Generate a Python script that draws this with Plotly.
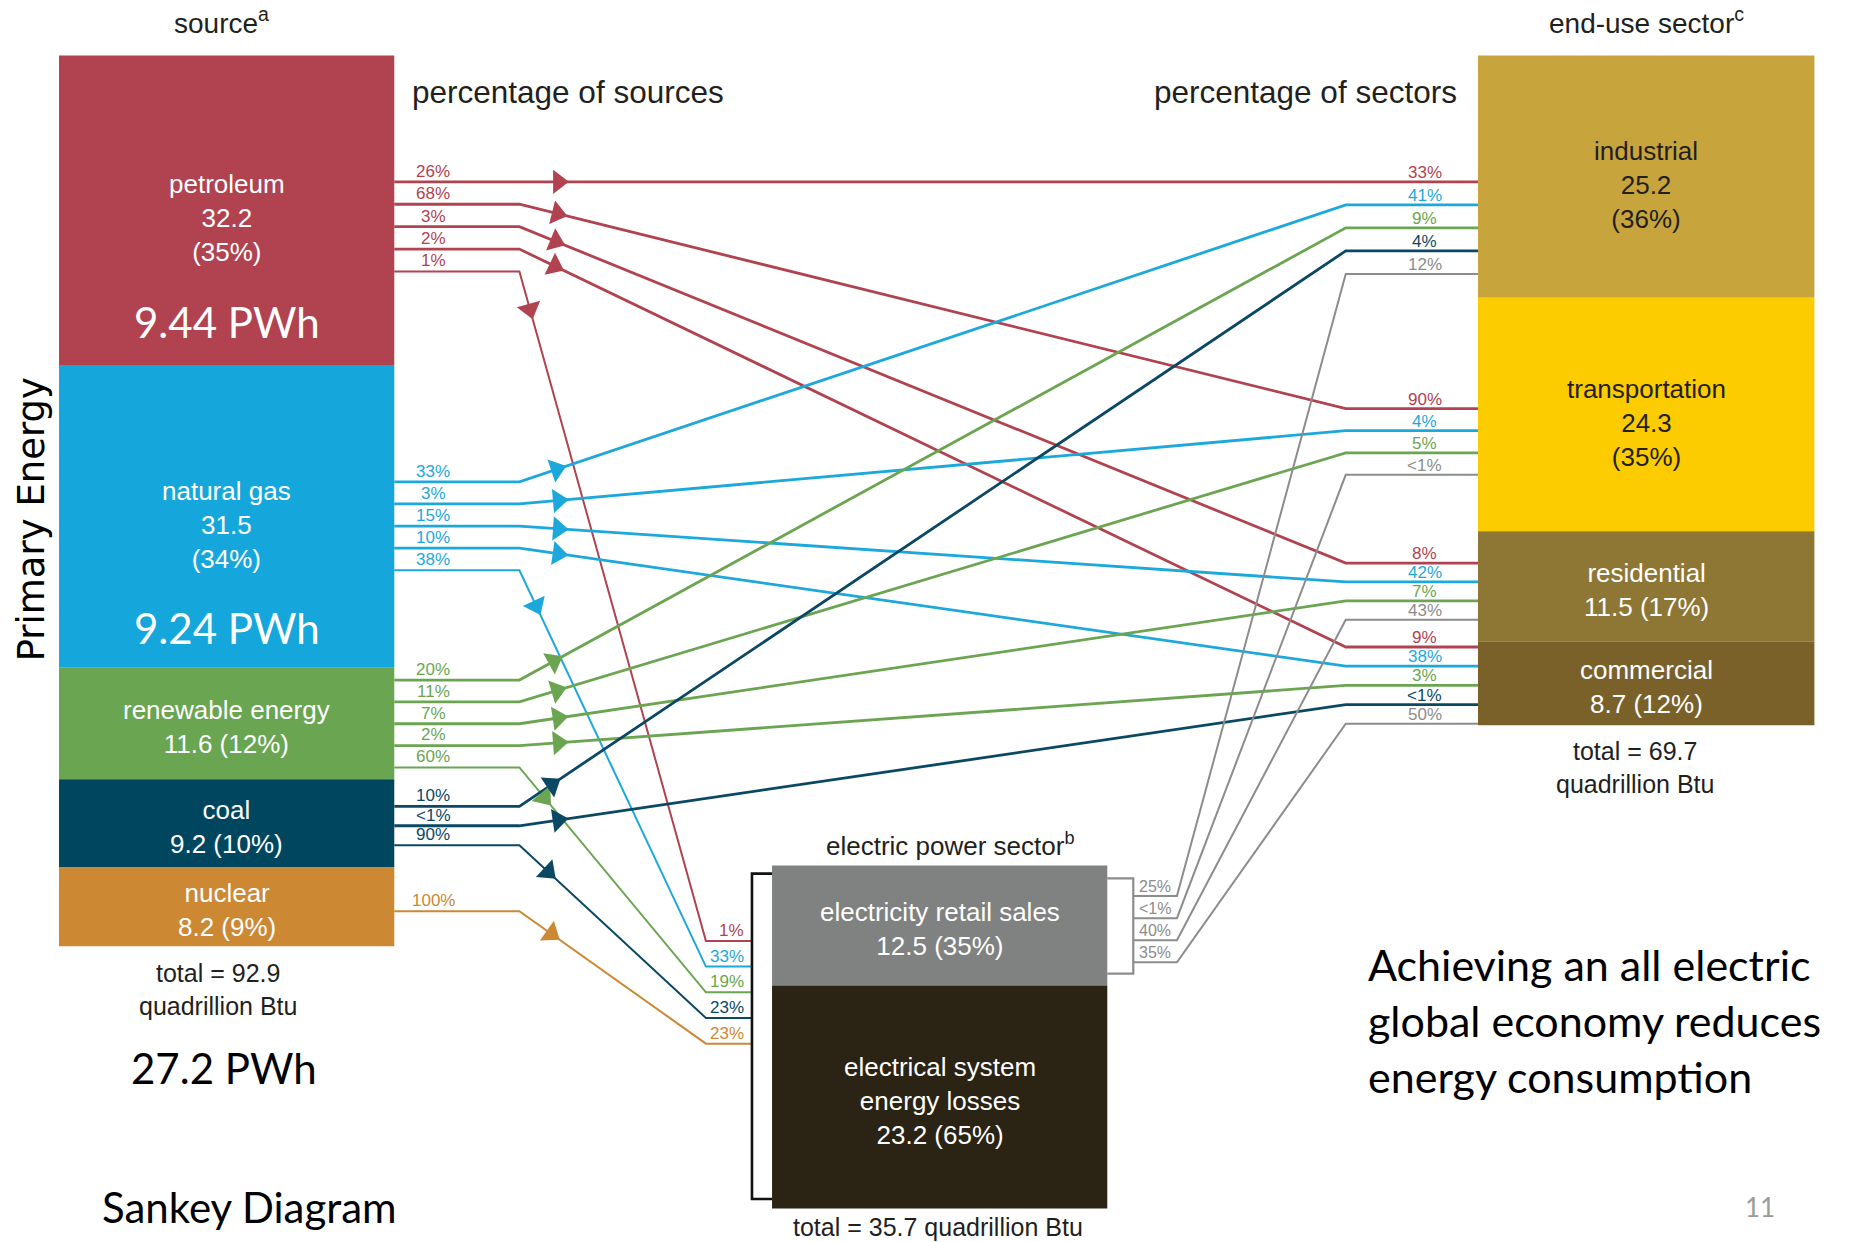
import math
import numpy as np
import plotly.graph_objects as go

# =========================
# DATA (quadrillion Btu)
# =========================
SOURCES = ["petroleum", "natural gas", "renewable energy", "coal", "nuclear"]
SOURCE_VALUES = [32.2, 31.5, 11.6, 9.2, 8.2]
SOURCE_SHARES = ["35%", "34%", "12%", "10%", "9%"]
SOURCE_PWH = ["9.44 PWh", "9.24 PWh", "", "", ""]
SOURCE_TOTAL = 92.9
TOTAL_PWH = "27.2 PWh"

SECTORS = ["industrial", "transportation", "residential", "commercial"]
SECTOR_VALUES = [25.2, 24.3, 11.5, 8.7]
SECTOR_SHARES = ["36%", "35%", "17%", "12%"]
SECTOR_TOTAL = 69.7

ELECTRIC = ["electricity retail sales", "electrical system energy losses"]
ELECTRIC_VALUES = [12.5, 23.2]
ELECTRIC_SHARES = ["35%", "65%"]
ELECTRIC_TOTAL = 35.7

# flows: origin, destination, % of origin, % of destination
FLOW_FROM = (["petroleum"] * 5 + ["natural gas"] * 5 + ["renewable energy"] * 5
             + ["coal"] * 3 + ["nuclear"] + ["electricity retail sales"] * 4)
FLOW_TO = (["industrial", "transportation", "residential", "commercial", "electric power sector"] * 3
           + ["industrial", "commercial", "electric power sector"]
           + ["electric power sector"]
           + ["industrial", "transportation", "residential", "commercial"])
FLOW_PCT_FROM = ["26%", "68%", "3%", "2%", "1%",
                 "33%", "3%", "15%", "10%", "38%",
                 "20%", "11%", "7%", "2%", "60%",
                 "10%", "<1%", "90%",
                 "100%",
                 "25%", "<1%", "40%", "35%"]
FLOW_PCT_TO = ["33%", "90%", "8%", "9%", "1%",
               "41%", "4%", "42%", "38%", "33%",
               "9%", "5%", "7%", "3%", "19%",
               "4%", "<1%", "23%",
               "23%",
               "12%", "<1%", "43%", "50%"]

# =========================
# STYLE
# =========================
BOX_COLORS = {
    "petroleum": "#B0434F", "natural gas": "#15A7DB", "renewable energy": "#6AA552",
    "coal": "#00465F", "nuclear": "#CD8834",
    "industrial": "#C8A43C", "transportation": "#FDCC00", "residential": "#8E7634",
    "commercial": "#7A612A",
    "electricity retail sales": "#7F8281", "electrical system energy losses": "#2B2314",
}
LINE_COLORS = {
    "petroleum": "#B0434F", "natural gas": "#1DA8DC", "renewable energy": "#6BA552",
    "coal": "#0B4863", "nuclear": "#CD8834", "electricity retail sales": "#8C8C8C",
}
DARK_TEXT = {"industrial", "transportation"}
THREE_LINE = {"petroleum", "natural gas", "industrial", "transportation"}
DISPLAY = {"electrical system energy losses": "electrical system<br>energy losses"}

ARIAL = "Liberation Sans, Arial, sans-serif"
CALIBRI = "Lato, Carlito, Calibri, sans-serif"
TXT = "#231F20"

# geometry in reference pixels (x) ; y axis in quadrillion Btu
W_REF, H_REF = 1568, 1052
PX_PER_UNIT = 8.14
TOP_PX = 47


def u(py):
    return (py - TOP_PX) / PX_PER_UNIT


def to_px(val):
    return TOP_PX + val * PX_PER_UNIT


SRC_X0, SRC_X1 = 50, 334
END_X0, END_X1 = 1252, 1537
ELE_X0, ELE_X1 = 654, 938
BEND_OUT, BEND_IN, BEND_ELE = 440, 1140, 598
ELE_BRACKET, RET_BRACKET, RET_BEND = 637, 960, 997
ELEC_BASE = u(733)

# port offsets from box top and spacing (px)
PORTS_OUT = {"petroleum": (107, 19), "natural gas": (99, 18.75), "renewable energy": (10.5, 18.5),
             "coal": (23, 16.5), "nuclear": (37, 0), "electricity retail sales": (26, 18.7)}
PORTS_IN = {"industrial": (107, 19.5), "transportation": (94, 18.7), "residential": (27, 16),
            "commercial": (4.5, 16.25), "electric power sector": (64, 21.75)}

nodes = {}
for names, values, x0, x1, start in [
        (SOURCES, SOURCE_VALUES, SRC_X0, SRC_X1, 0.0),
        (SECTORS, SECTOR_VALUES, END_X0, END_X1, 0.0),
        (ELECTRIC, ELECTRIC_VALUES, ELE_X0, ELE_X1, ELEC_BASE)]:
    bases = start + np.concatenate([[0], np.cumsum(values)[:-1]])
    for n, b, v in zip(names, bases, values):
        nodes[n] = dict(x0=x0, x1=x1, base=float(b), value=v)
nodes["electric power sector"] = dict(x0=ELE_X0, x1=ELE_X1, base=ELEC_BASE, value=ELECTRIC_TOTAL)

fig = go.Figure()

# ---- boxes (bars)
for names, values in [(SOURCES, SOURCE_VALUES), (SECTORS, SECTOR_VALUES), (ELECTRIC, ELECTRIC_VALUES)]:
    nd = [nodes[n] for n in names]
    fig.add_trace(go.Bar(
        x=[(d["x0"] + d["x1"]) / 2 for d in nd], y=values, base=[d["base"] for d in nd],
        width=[d["x1"] - d["x0"] for d in nd],
        marker=dict(color=[BOX_COLORS[n] for n in names], line_width=0),
        hoverinfo="skip", showlegend=False,
    ))

annotations = []


def ann(x, ypx, text, size, color=TXT, family=ARIAL, xanchor="center", **kw):
    annotations.append(dict(x=x, y=u(ypx), xref="x", yref="y", text=text, showarrow=False,
                            xanchor=xanchor, yanchor="middle",
                            font=dict(size=size, color=color, family=family), **kw))


# ---- box labels
pairs = list(zip(SOURCES, SOURCE_VALUES, SOURCE_SHARES)) + \
    list(zip(SECTORS, SECTOR_VALUES, SECTOR_SHARES)) + \
    list(zip(ELECTRIC, ELECTRIC_VALUES, ELECTRIC_SHARES))
for n, v, s in pairs:
    d = nodes[n]
    cx = (d["x0"] + d["x1"]) / 2
    cy = to_px(d["base"] + v / 2)
    name = DISPLAY.get(n, n)
    if n in THREE_LINE:
        text, cy = f"{name}<br>{v}<br>({s})", cy + 7
    else:
        text, cy = f"{name}<br>{v} ({s})", cy + 3
    col = TXT if n in DARK_TEXT else "#FFFFFF"
    ann(cx, cy, text, 26, col)
    if n in SOURCES and SOURCE_PWH[SOURCES.index(n)]:
        ann(cx, cy + 88, SOURCE_PWH[SOURCES.index(n)], 42, "#FFFFFF", CALIBRI)

# ---- flows
out_idx = {k: 0 for k in PORTS_OUT}
in_idx = {k: 0 for k in PORTS_IN}
arrows = []
for f, t, pf, pt in zip(FLOW_FROM, FLOW_TO, FLOW_PCT_FROM, FLOW_PCT_TO):
    off, sp = PORTS_OUT[f]
    ys = to_px(nodes[f]["base"]) + off + sp * out_idx[f]
    out_idx[f] += 1
    off, sp = PORTS_IN[t]
    yt = to_px(nodes[t]["base"]) + off + sp * in_idx[t]
    in_idx[t] += 1

    xs = [RET_BRACKET, RET_BEND] if f == "electricity retail sales" else [SRC_X1, BEND_OUT]
    xe = [BEND_ELE, ELE_BRACKET] if t == "electric power sector" else [BEND_IN, END_X0]
    col = LINE_COLORS[f]
    width = 2 if (f == "electricity retail sales" or t == "electric power sector") else 2.8
    fig.add_trace(go.Scatter(
        x=xs + xe, y=[u(ys), u(ys), u(yt), u(yt)], mode="lines",
        line=dict(color=col, width=width), hoverinfo="skip", showlegend=False,
    ))

    if f == "electricity retail sales":
        ann(978, ys - 8, pf, 16, col)
    else:
        ann(367, ys - 9, pf, 17, col)
        dx, dy = xe[0] - xs[1], yt - ys
        L = math.hypot(dx, dy)
        dist = 33
        arrows.append((xs[1] + dx * dist / L, ys + dy * dist / L,
                       math.degrees(math.atan2(dx, -dy)), col))
    if t == "electric power sector":
        ann(632, yt - 9, pt, 17, col, xanchor="right")
    else:
        ann(1207, yt - 8, pt, 17, col)

fig.add_trace(go.Scatter(
    x=[a[0] for a in arrows], y=[u(a[1]) for a in arrows], mode="markers",
    marker=dict(symbol="triangle-up", size=21, angle=[a[2] for a in arrows],
                color=[a[3] for a in arrows], line_width=0),
    hoverinfo="skip", showlegend=False,
))

# ---- brackets around electric power sector
e = nodes["electric power sector"]
etop, ebot = to_px(e["base"]), to_px(e["base"] + e["value"])
fig.add_trace(go.Scatter(
    x=[ELE_X0, ELE_BRACKET, ELE_BRACKET, ELE_X0], y=[u(etop + 7), u(etop + 7), u(ebot - 8), u(ebot - 8)],
    mode="lines", line=dict(color="#111111", width=2.6), hoverinfo="skip", showlegend=False))
r = nodes["electricity retail sales"]
rtop, rbot = to_px(r["base"]), to_px(r["base"] + r["value"])
fig.add_trace(go.Scatter(
    x=[ELE_X1, RET_BRACKET, RET_BRACKET, ELE_X1], y=[u(rtop + 11), u(rtop + 11), u(rbot - 10), u(rbot - 10)],
    mode="lines", line=dict(color="#8C8C8C", width=2.2), hoverinfo="skip", showlegend=False))

# ---- headers and free text
ann(188, 18, "source<sup>a</sup>", 28)
ann(1395, 18, "end-use sector<sup>c</sup>", 28)
ann(347, 78, "percentage of sources", 31.5, xanchor="left")
ann(1236, 78, "percentage of sectors", 31.5, xanchor="right")
ann(805, 715, "electric power sector<sup>b</sup>", 26)

src_bottom = to_px(SOURCE_TOTAL)
ann(185, src_bottom + 35, f"total = {SOURCE_TOTAL}<br>quadrillion Btu", 25)
ann(190, 905, TOTAL_PWH, 42, "#000000", CALIBRI)
sec_bottom = to_px(SECTOR_TOTAL)
ann(1385, sec_bottom + 36, f"total = {SECTOR_TOTAL}<br>quadrillion Btu", 25)
ann(795, ebot + 16, f"total = {ELECTRIC_TOTAL} quadrillion Btu", 25)

ann(27, 440, "Primary Energy", 37, "#000000", "DejaVu Sans, Verdana, sans-serif", textangle=-90)
ann(85, 1022, "Sankey Diagram", 42, "#000000", CALIBRI, xanchor="left")
ann(1157, 864, "Achieving an all electric<br>global economy reduces<br>energy consumption",
    43, "#000000", CALIBRI, xanchor="left", align="left")
ann(1491, 1022, "11", 26, "#9A9A9A", CALIBRI)

fig.update_layout(
    width=1851, height=1242,
    margin=dict(l=0, r=0, t=0, b=0),
    paper_bgcolor="white", plot_bgcolor="white",
    barmode="overlay", showlegend=False,
    xaxis=dict(range=[0, W_REF], visible=False, fixedrange=True),
    yaxis=dict(range=[u(H_REF), u(0)], visible=False, fixedrange=True),
    annotations=annotations,
)

fig.write_html("out.html", config={"displayModeBar": False},
               post_script="document.body.style.margin='0';")
